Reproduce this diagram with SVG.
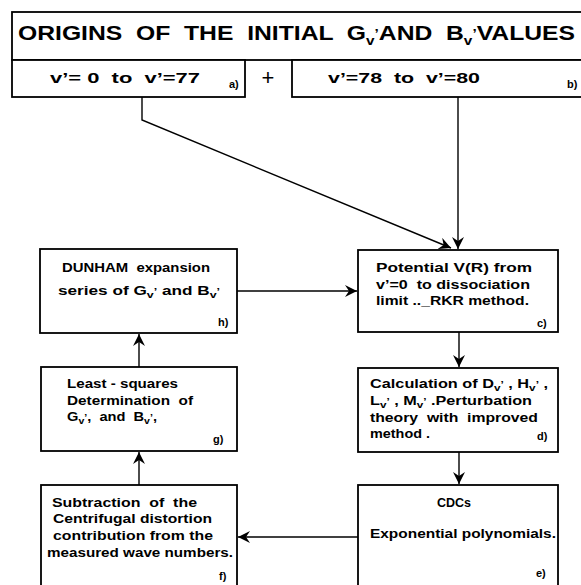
<svg xmlns="http://www.w3.org/2000/svg" width="581" height="585" viewBox="0 0 581 585" xml:space="preserve">
<style>
.box{fill:#fff;stroke:#000;stroke-width:1.8}
.t{font-family:"Liberation Sans",Arial,sans-serif;font-weight:bold;fill:#000;white-space:pre}
.title{font-size:21px}
.rng{font-size:15px}
.n{font-size:12.5px}
.lab{font-size:11px}
.sub{font-size:9px}
.tsub{font-size:13px}
.conn{fill:none;stroke:#000;stroke-width:1.4}
</style>
<defs>
<marker id="ah" markerUnits="userSpaceOnUse" markerWidth="14" markerHeight="12" refX="12" refY="6" orient="auto">
<path d="M0,0 L12,6 L0,12 L4,6 z" fill="#000"/>
</marker>
</defs>
<rect width="581" height="585" fill="#fff"/>
<g id="title">
<rect class="box" x="12" y="12" width="580" height="48"/>
<text class="t title" x="18" y="40" textLength="557" lengthAdjust="spacingAndGlyphs">ORIGINS  OF  THE  INITIAL  G<tspan class="tsub" dy="5">v</tspan><tspan class="tsub" dy="-7">’</tspan><tspan dy="2">AND  B</tspan><tspan class="tsub" dy="5">v</tspan><tspan class="tsub" dy="-7">’</tspan><tspan dy="2">VALUES</tspan></text>
</g>
<g id="range-a">
<rect class="box" x="12" y="60" width="233" height="37"/>
<text class="t rng" x="50" y="83" textLength="150" lengthAdjust="spacingAndGlyphs">v’= 0  to  v’=77</text>
<text class="t lab" x="229" y="88">a)</text>
</g>
<g id="plus">
<text class="t" x="268" y="85" font-size="22" text-anchor="middle" style="font-weight:normal">+</text>
</g>
<g id="range-b">
<rect class="box" x="292" y="60" width="295" height="37"/>
<text class="t rng" x="328" y="83" textLength="152" lengthAdjust="spacingAndGlyphs">v’=78  to  v’=80</text>
<text class="t lab" x="567" y="88">b)</text>
</g>
<g id="node-h">
<rect class="box" x="40" y="249" width="197" height="84"/>
<text class="t n" x="62" y="272" textLength="148" lengthAdjust="spacingAndGlyphs">DUNHAM  expansion</text>
<text class="t n" x="58" y="295" textLength="162" lengthAdjust="spacingAndGlyphs">series of G<tspan class="sub" dy="3">v</tspan><tspan class="sub" dy="-4">’</tspan><tspan dy="1"> and B</tspan><tspan class="sub" dy="3">v</tspan><tspan class="sub" dy="-4">’</tspan></text>
<text class="t lab" x="218" y="326">h)</text>
</g>
<g id="node-c">
<rect class="box" x="358" y="250" width="200" height="82"/>
<text class="t n" x="376" y="272" textLength="156" lengthAdjust="spacingAndGlyphs">Potential V(R) from</text>
<text class="t n" x="376" y="289" textLength="154" lengthAdjust="spacingAndGlyphs">v’=0  to dissociation</text>
<text class="t n" x="376" y="305" textLength="153" lengthAdjust="spacingAndGlyphs">limit .._RKR method.</text>
<text class="t lab" x="537" y="327">c)</text>
</g>
<g id="node-g">
<rect class="box" x="41" y="367" width="196" height="84"/>
<text class="t n" x="67" y="388" textLength="111" lengthAdjust="spacingAndGlyphs">Least - squares</text>
<text class="t n" x="67" y="405" textLength="126" lengthAdjust="spacingAndGlyphs">Determination  of</text>
<text class="t n" x="67" y="421" textLength="90" lengthAdjust="spacingAndGlyphs">G<tspan class="sub" dy="3">v</tspan><tspan class="sub" dy="-4">’</tspan><tspan dy="1">,  and  B</tspan><tspan class="sub" dy="3">v</tspan><tspan class="sub" dy="-4">’</tspan><tspan dy="1">,</tspan></text>
<text class="t lab" x="213" y="443">g)</text>
</g>
<g id="node-d">
<rect class="box" x="358" y="368" width="200" height="84"/>
<text class="t n" x="370" y="388" textLength="178" lengthAdjust="spacingAndGlyphs">Calculation of D<tspan class="sub" dy="3">v</tspan><tspan class="sub" dy="-4">’</tspan><tspan dy="1"> , H</tspan><tspan class="sub" dy="3">v</tspan><tspan class="sub" dy="-4">’</tspan><tspan dy="1"> ,</tspan></text>
<text class="t n" x="370" y="405" textLength="162" lengthAdjust="spacingAndGlyphs">L<tspan class="sub" dy="3">v</tspan><tspan class="sub" dy="-4">’</tspan><tspan dy="1"> , M</tspan><tspan class="sub" dy="3">v</tspan><tspan class="sub" dy="-4">’</tspan><tspan dy="1"> .Perturbation</tspan></text>
<text class="t n" x="370" y="422" textLength="168" lengthAdjust="spacingAndGlyphs">theory  with  improved</text>
<text class="t n" x="370" y="438" textLength="60" lengthAdjust="spacingAndGlyphs">method .</text>
<text class="t lab" x="537" y="440">d)</text>
</g>
<g id="node-f">
<rect class="box" x="41" y="485" width="196" height="110"/>
<text class="t n" x="52" y="507" textLength="145" lengthAdjust="spacingAndGlyphs">Subtraction  of  the</text>
<text class="t n" x="53" y="523" textLength="159" lengthAdjust="spacingAndGlyphs">Centrifugal distortion</text>
<text class="t n" x="53" y="540" textLength="160" lengthAdjust="spacingAndGlyphs">contribution from the</text>
<text class="t n" x="47" y="557" textLength="186" lengthAdjust="spacingAndGlyphs">measured wave numbers.</text>
<text class="t lab" x="219" y="580">f)</text>
</g>
<g id="node-e">
<rect class="box" x="358" y="485" width="200" height="110"/>
<text class="t n" x="454" y="507" text-anchor="middle">CDCs</text>
<text class="t n" x="370" y="538" textLength="186" lengthAdjust="spacingAndGlyphs">Exponential polynomials.</text>
<text class="t lab" x="536" y="577">e)</text>
</g>
<g id="connectors">
<path class="conn" d="M142,97 L142,120 L451,248" marker-end="url(#ah)"/>
<path class="conn" d="M458,97 L458,249" marker-end="url(#ah)"/>
<path class="conn" d="M237,291 L357,291" marker-end="url(#ah)"/>
<path class="conn" d="M459,332 L459,367" marker-end="url(#ah)"/>
<path class="conn" d="M459,452 L459,484" marker-end="url(#ah)"/>
<path class="conn" d="M358,537 L238,537" marker-end="url(#ah)"/>
<path class="conn" d="M139,485 L139,452" marker-end="url(#ah)"/>
<path class="conn" d="M139,367 L139,334" marker-end="url(#ah)"/>
</g>
</svg>
